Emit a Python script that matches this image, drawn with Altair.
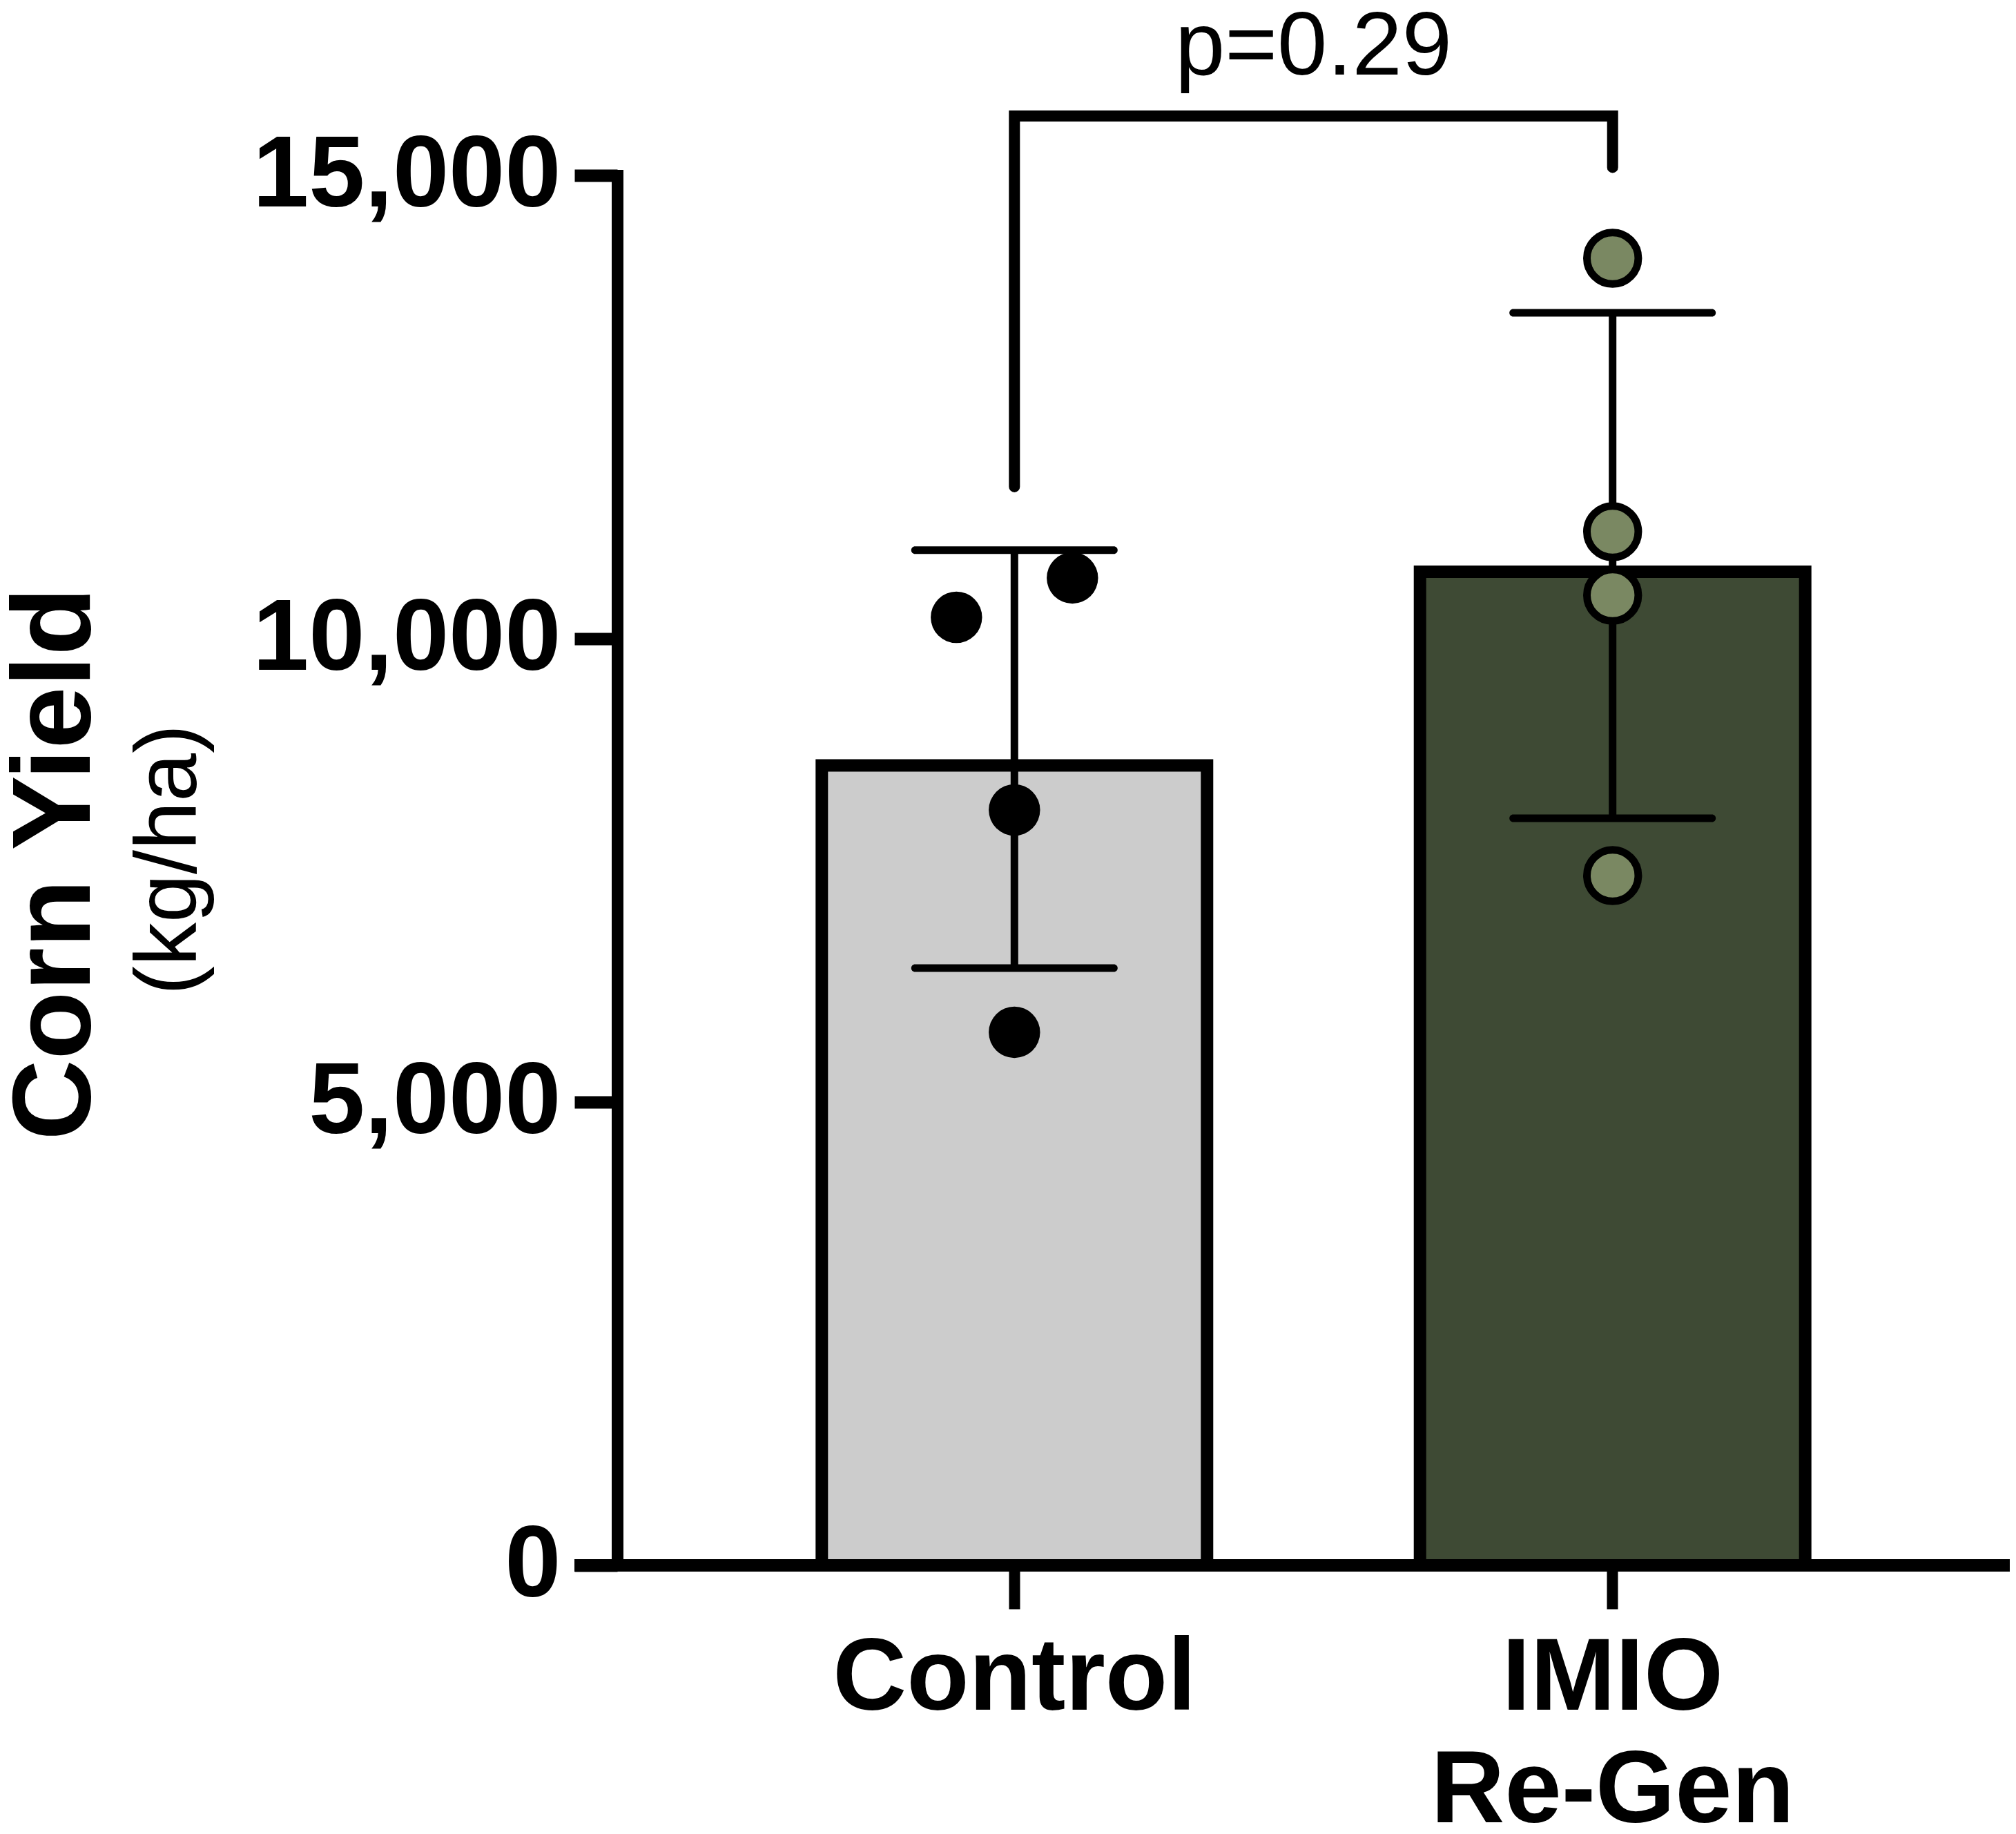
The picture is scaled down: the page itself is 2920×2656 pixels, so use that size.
import altair as alt
import pandas as pd

# ---- data ----
categories = ["Control", "IMIO Re-Gen"]
means = [8700, 10790]
sds = [2255, 2728]
control_points = [10231, 10656, 8152, 5753]
imio_points = [14106, 11155, 10469, 7444]
control_jitter = [-84, 84, 0, 0]
imio_jitter = [0, 0, 0, 0]
bracket_heights = [11640, 15641, 15641, 15086]
p_label = "p=0.29"
y_ticks = [0, 5000, 10000, 15000]
y_title = "Corn Yield"
y_unit = "(kg/ha)"

bar_colors = ["#CCCCCC", "#3E4A34"]
imio_point_color = "#7A8862"

W, H = 2017, 2013
FONT = "Liberation Sans"

summary = pd.DataFrame({"group": categories, "mean": means, "sd": sds})
summary["lo"] = summary["mean"] - summary["sd"]
summary["hi"] = summary["mean"] + summary["sd"]

pts = pd.DataFrame({
    "group": [categories[0]] * len(control_points) + [categories[1]] * len(imio_points),
    "yield": control_points + imio_points,
    "dx": control_jitter + imio_jitter,
})
bracket = pd.DataFrame({"group": [categories[0], categories[0], categories[1], categories[1]],
                        "y": bracket_heights, "i": [0, 1, 2, 3]})

xscale = alt.Scale(domain=categories, paddingInner=0.356, paddingOuter=0.342)
xaxis = alt.Axis(title=None, labelAngle=0, labelFont=FONT, labelFontSize=148,
                 labelFontWeight="bold", labelColor="black", labelLimit=0,
                 labelExpr="split(datum.label, ' ')", labelLineHeight=163,
                 labelPadding=28, tickSize=63, tickWidth=16, tickColor="black",
                 domain=False, grid=False)
yscale = alt.Scale(domain=[0, 15000], nice=False, zero=True)
yaxis = alt.Axis(title=None, values=y_ticks, format=",.0f", labelFont=FONT,
                 labelFontSize=146, labelFontWeight="bold", labelColor="black",
                 labelLimit=0, labelPadding=20, tickSize=62, tickWidth=18,
                 tickColor="black", domainColor="black", domainWidth=17,
                 domainCap="square", grid=False)


def X():
    return alt.X("group:N", scale=xscale, sort=categories, axis=xaxis)


def Y(field):
    return alt.Y(field, scale=yscale, axis=yaxis)


bars = alt.Chart(summary).mark_bar(stroke="black", strokeWidth=18, yOffset=9).encode(
    x=X(), y=Y("mean:Q"), y2=alt.datum(0),
    fill=alt.Fill("group:N", scale=alt.Scale(domain=categories, range=bar_colors), legend=None),
)

err = alt.Chart(summary).mark_rule(strokeWidth=11, color="black").encode(
    x=X(), y=Y("lo:Q"), y2="hi:Q")
cap_lo = alt.Chart(summary).mark_tick(size=299, thickness=11, cornerRadius=5.5,
                                      color="black", opacity=1).encode(x=X(), y=Y("lo:Q"))
cap_hi = alt.Chart(summary).mark_tick(size=299, thickness=11, cornerRadius=5.5,
                                      color="black", opacity=1).encode(x=X(), y=Y("hi:Q"))

baseline = alt.Chart(pd.DataFrame({"v": [0]})).mark_rule(
    strokeWidth=18, color="black").encode(
    y=Y("v:Q"), x=alt.value(-62), x2=alt.value(W))

point_layers = []
for dx in sorted(set(control_jitter + imio_jitter)):
    base = alt.Chart(pts).transform_filter(alt.datum.dx == dx)
    point_layers.append(
        base.transform_filter(alt.datum.group == categories[0]).mark_circle(
            size=5540, color="black", opacity=1, xOffset=dx).encode(x=X(), y=Y("yield:Q")))
    point_layers.append(
        base.transform_filter(alt.datum.group == categories[1]).mark_circle(
            size=5540, fill=imio_point_color, stroke="black", strokeWidth=11,
            opacity=1, xOffset=dx).encode(x=X(), y=Y("yield:Q")))

br = alt.Chart(bracket).mark_line(strokeWidth=16, color="black", strokeCap="round",
                                  strokeJoin="miter").encode(
    x=X(), y=Y("y:Q"), order="i:Q")

ptext = alt.Chart(pd.DataFrame({"t": [p_label]})).mark_text(
    font=FONT, fontSize=130, align="center", baseline="alphabetic", color="black").encode(
    text="t:N", x=alt.value(W / 2), y=alt.value(-146))

t1 = alt.Chart(pd.DataFrame({"t": [y_title]})).mark_text(
    font=FONT, fontSize=162, fontWeight="bold", angle=270, align="center",
    baseline="alphabetic", color="black").encode(
    text="t:N", x=alt.value(-764), y=alt.value(997))
t2 = alt.Chart(pd.DataFrame({"t": [y_unit]})).mark_text(
    font=FONT, fontSize=126, angle=270, align="center",
    baseline="alphabetic", color="black").encode(
    text="t:N", x=alt.value(-610), y=alt.value(991))

chart = alt.layer(bars, err, cap_lo, cap_hi, baseline, *point_layers, br, ptext, t1, t2).properties(
    width=W, height=H,
    autosize=alt.AutoSizeParams(type="none"),
    padding={"left": 886, "top": 246, "right": 1, "bottom": 376},
    background="white",
).configure(font=FONT, view=alt.ViewConfig(stroke=None))

chart.save("out.html", embed_options={"renderer": "svg", "actions": False})
